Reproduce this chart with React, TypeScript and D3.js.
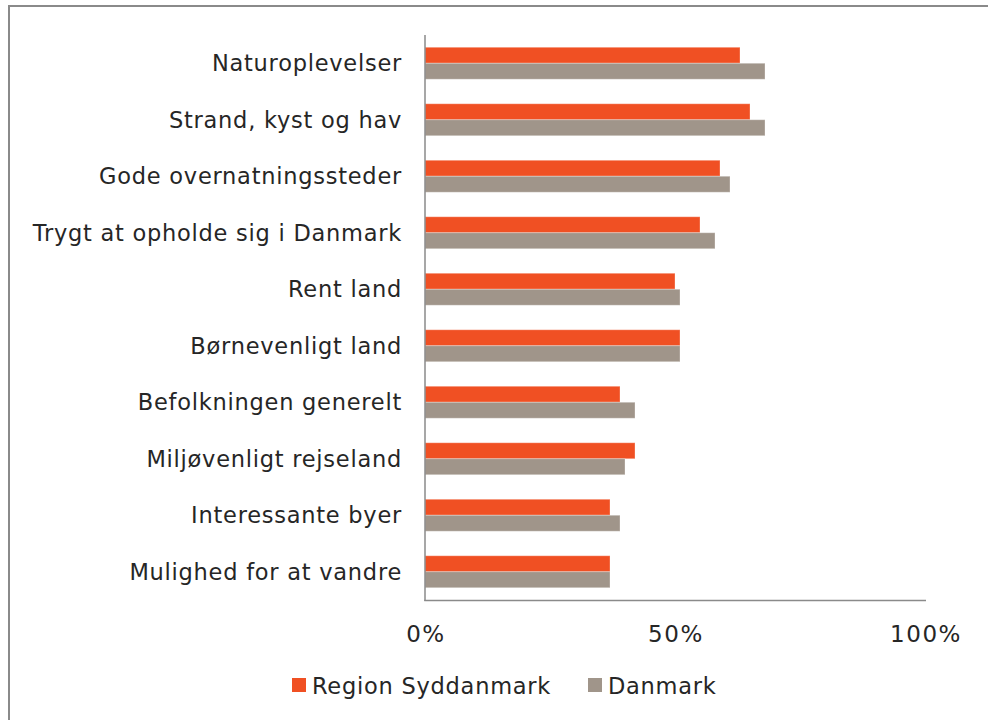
import { useEffect, useRef } from 'react';
import * as d3 from 'd3';

const categories = [
  'Naturoplevelser',
  'Strand, kyst og hav',
  'Gode overnatningssteder',
  'Trygt at opholde sig i Danmark',
  'Rent land',
  'Børnevenligt land',
  'Befolkningen generelt',
  'Miljøvenligt rejseland',
  'Interessante byer',
  'Mulighed for at vandre',
];
const regionValues = [63, 65, 59, 55, 50, 51, 39, 42, 37, 37];
const danmarkValues = [68, 68, 61, 58, 51, 51, 42, 40, 39, 37];
const seriesNames = ['Region Syddanmark', 'Danmark'];
const xTicks = [0, 50, 100];

const COLORS = ['#F05023', '#A0958A'];
const FONT = '"DejaVu Sans", Verdana, sans-serif';
const TEXT = '#262626';
const AXIS = '#8a8a8a';

export default function App() {
  const svgRef = useRef<SVGSVGElement>(null);

  useEffect(() => {
    if (!svgRef.current) return;
    const width = 988;
    const height = 720;
    const svg = d3.select(svgRef.current);
    svg.selectAll('*').remove();
    svg.attr('width', width).attr('height', height);

    svg.append('rect').attr('width', width).attr('height', height).attr('fill', '#fff');

    // outer frame (only top and left visible)
    svg.append('path')
      .attr('d', `M9,${height + 5} V6 H${width + 5}`)
      .attr('fill', 'none')
      .attr('stroke', AXIS)
      .attr('stroke-width', 2);

    const x = d3.scaleLinear().domain([0, 100]).range([425, 925]);
    const y = d3.scaleBand<string>()
      .domain(categories)
      .range([35, 600])
      .paddingInner(0.434)
      .paddingOuter(0.217);
    const sub = d3.scaleBand<string>()
      .domain(seriesNames)
      .range([0, y.bandwidth()]);

    const series = [regionValues, danmarkValues];
    series.forEach((vals, si) => {
      svg.append('g')
        .selectAll('rect')
        .data(categories)
        .join('rect')
        .attr('x', x(0))
        .attr('y', d => (y(d) ?? 0) + (sub(seriesNames[si]) ?? 0))
        .attr('width', (d, i) => x(vals[i]) - x(0))
        .attr('height', sub.bandwidth())
        .attr('fill', COLORS[si])
        .attr('stroke', '#ffffff')
        .attr('stroke-opacity', 0.3)
        .attr('stroke-width', 1);
    });

    // axes lines
    svg.append('line')
      .attr('x1', x(0)).attr('x2', x(0))
      .attr('y1', 35).attr('y2', 601)
      .attr('stroke', AXIS).attr('stroke-width', 1.5);
    svg.append('line')
      .attr('x1', x(0) - 0.75).attr('x2', x(100) + 1)
      .attr('y1', 600.5).attr('y2', 600.5)
      .attr('stroke', AXIS).attr('stroke-width', 1.5);

    // category labels
    svg.append('g')
      .selectAll('text')
      .data(categories)
      .join('text')
      .attr('x', 402)
      .attr('y', d => (y(d) ?? 0) + y.bandwidth() / 2)
      .attr('dy', '0.36em')
      .attr('text-anchor', 'end')
      .attr('font-family', FONT)
      .attr('font-size', 22.5)
      .attr('letter-spacing', 0.75)
      .attr('fill', TEXT)
      .text(d => d);

    // x tick labels
    svg.append('g')
      .selectAll('text')
      .data(xTicks)
      .join('text')
      .attr('x', d => x(d) + 1)
      .attr('y', 641.5)
      .attr('text-anchor', 'middle')
      .attr('font-family', FONT)
      .attr('font-size', 23)
      .attr('letter-spacing', 1.6)
      .attr('fill', TEXT)
      .text(d => `${d}%`);

    // legend
    const legendX = [292, 588];
    seriesNames.forEach((name, i) => {
      const g = svg.append('g').attr('transform', `translate(${legendX[i]},678)`);
      g.append('rect').attr('width', 14).attr('height', 14).attr('fill', COLORS[i]);
      g.append('text')
        .attr('x', 20)
        .attr('y', 15.5)
        .attr('font-family', FONT)
        .attr('font-size', 22.5)
        .attr('letter-spacing', 0.75)
        .attr('fill', TEXT)
        .text(name);
    });
  }, []);

  return (
    <div style={{ position: 'absolute', left: 0, top: 0 }}>
      <svg ref={svgRef} style={{ display: 'block' }}></svg>
    </div>
  );
}
